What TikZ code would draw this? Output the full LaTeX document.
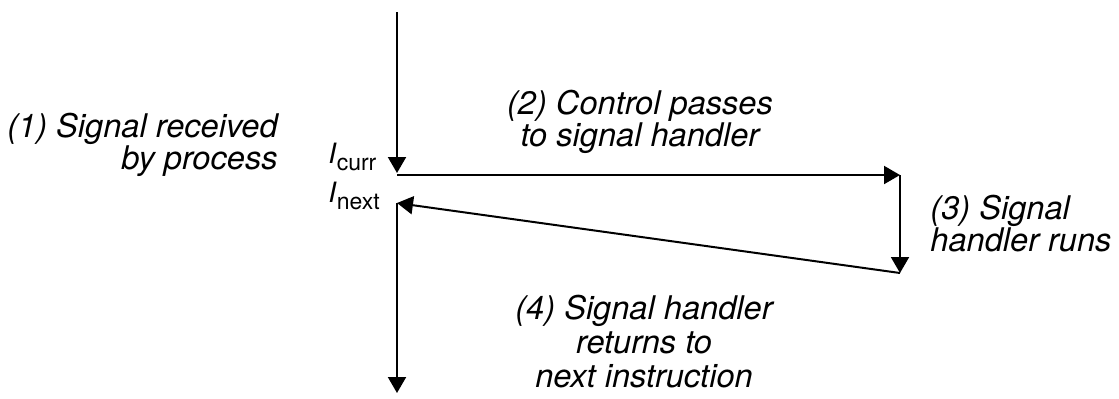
\documentclass[tikz,border=0pt]{standalone}
\usepackage{fontspec}
\setmainfont{TeX Gyre Heros}
\usetikzlibrary{arrows.meta,positioning}

\begin{document}
\begin{tikzpicture}[x=0.5pt, y=-0.5pt,
  flow/.style={line width=1pt, -{Triangle[length=8pt,width=9pt]}},
  note/.style={font=\fontsize{16.3}{16}\selectfont\itshape, inner sep=0pt},
  instr/.style={inner sep=0pt, anchor=base west}]
  \useasboundingbox (0,0) rectangle (1119,398);
  % points of the control flow
  \coordinate (start) at (397,12);
  \coordinate (curr)  at (397,175);
  \coordinate (hand)  at (900,175);
  \coordinate (hdone) at (900,273);
  \coordinate (next)  at (397,203);
  \coordinate (finish) at (397,393);
  % instruction labels
  \node[instr] (icurr) at (328,163) {\fontsize{14}{14}\selectfont\textit{I}\raisebox{-3.5pt}{\fontsize{11.5}{12}\selectfont curr}};
  \node[instr] (inext) at (328,202) {\fontsize{14}{14}\selectfont\textit{I}\raisebox{-3.5pt}{\fontsize{11.5}{12}\selectfont next}};
  % step notes
  \node[note, align=right, anchor=north east] (recv) at (278,113) {(1) Signal received\\by process};
  \node[note, align=center, anchor=north] (pass) at (640,90) {(2) Control passes\\to signal handler};
  \node[note, align=left, anchor=north west] (runs) at (930,195) {(3) Signal\\handler runs};
  \node[note, align=center, anchor=north, font=\fontsize{16.3}{17}\selectfont\itshape] (ret) at (644,295)
    {(4) Signal handler\\returns to\\next instruction};
  % arrows
  \draw[flow, shorten >=1pt] (start) -- (curr);
  \draw[flow] (curr) -- (hand);
  \draw[flow] (hand) -- (hdone);
  \draw[flow] (hdone) -- (next);
  \draw[flow] (next) -- (finish);
\end{tikzpicture}
\end{document}
